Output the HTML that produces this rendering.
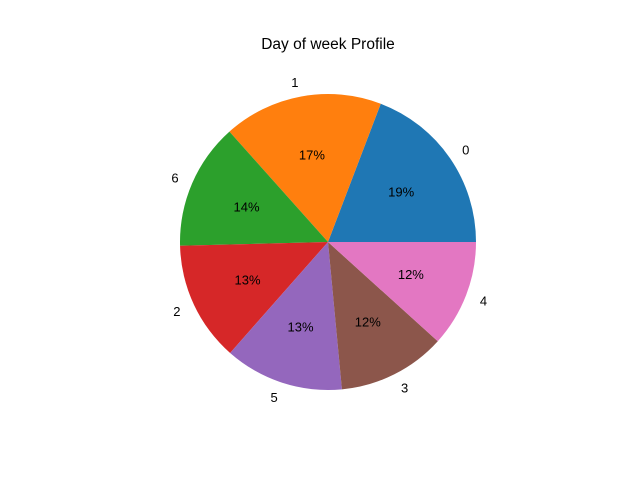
<!DOCTYPE html>
<html><head><meta charset="utf-8"><style>
body{margin:0;background:#fff;}
svg{display:block;font-family:"Liberation Sans","DejaVu Sans",sans-serif;}
</style></head><body>
<svg id="c" width="640" height="480">
<text x="328" y="49" text-anchor="middle" font-size="15.5">Day of week Profile</text>
</svg>
<script>
const categories=["0","1","6","2","5","3","4"];
const values=[19.2,17.4,13.8,13.1,13.0,11.8,11.7];
const colors=["#1f77b4","#ff7f0e","#2ca02c","#d62728","#9467bd","#8c564b","#e377c2"];
const svg=document.getElementById('c');
const NS="http://www.w3.org/2000/svg";
const cx=328,cy=242,r=148;
const total=values.reduce((a,b)=>a+b,0);
let a0=0;
function pt(a,rr){return [cx+rr*Math.cos(a),cy-rr*Math.sin(a)];}
values.forEach((v,i)=>{
  const a1=a0+v/total*2*Math.PI;
  const p0=pt(a0,r),p1=pt(a1,r);
  const large=(a1-a0)>Math.PI?1:0;
  const path=document.createElementNS(NS,'path');
  path.setAttribute('d',`M${cx},${cy} L${p0[0]},${p0[1]} A${r},${r} 0 ${large} 0 ${p1[0]},${p1[1]} Z`);
  path.setAttribute('fill',colors[i]);
  
  
  svg.appendChild(path);
  const am=(a0+a1)/2;
  const l=pt(am,r*1.1);
  const t=document.createElementNS(NS,'text');
  t.setAttribute('x',l[0]);t.setAttribute('y',l[1]+5);
  t.setAttribute('font-size','13');
  t.setAttribute('text-anchor',Math.cos(am)>0?'start':'end');
  t.textContent=categories[i];
  
  
  svg.appendChild(t);
  const q=pt(am,r*0.6);
  const p=document.createElementNS(NS,'text');
  p.setAttribute('x',q[0]);p.setAttribute('y',q[1]+5);
  p.setAttribute('font-size','13');
  p.setAttribute('text-anchor','middle');
  p.textContent=Math.round(v/total*100)+'%';
  
  
  svg.appendChild(p);
  a0=a1;
});
</script>
</body></html>
